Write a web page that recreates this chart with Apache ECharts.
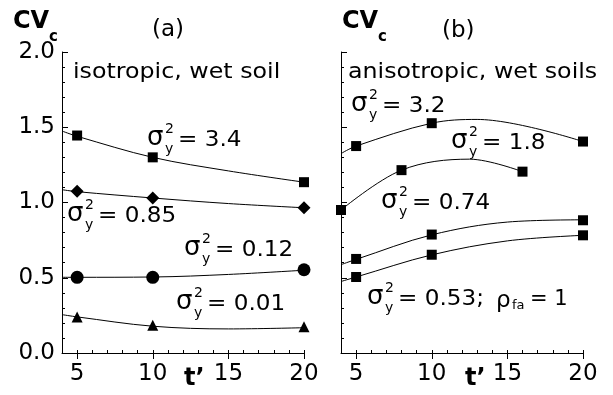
<!DOCTYPE html>
<html>
<head>
<meta charset="utf-8">
<script src="https://cdn.jsdelivr.net/npm/echarts@6/dist/echarts.min.js"></script>
<style>
  html, body { margin: 0; padding: 0; background: #fff; }
  #chart { width: 613px; height: 395px; }
</style>
</head>
<body>
<div id="chart"></div>
<script>
// panel (a): isotropic, wet soil
let tA = [5, 10, 20];
let aSq = [1.445, 1.30, 1.135];     // sigma^2 = 3.4
let aDia = [1.075, 1.03, 0.965];    // sigma^2 = 0.85
let aCirc = [0.503, 0.503, 0.553];  // sigma^2 = 0.12
let aTri = [0.24, 0.185, 0.175];    // sigma^2 = 0.01

// fitted curves (a)
let tFitA = [4, 5, 10, 15, 20];
let aFit34 = [1.475, 1.44, 1.30, 1.21, 1.135];
let aFit085 = [1.085, 1.072, 1.03, 0.993, 0.965];
let aFit012 = [0.503, 0.503, 0.505, 0.522, 0.55];
let aFit001 = [0.255, 0.24, 0.178, 0.16, 0.168];

// panel (b): anisotropic, wet soils
let tB = [5, 10, 20];
let b32 = [1.375, 1.527, 1.405];
let tB18 = [4, 8, 16];
let b18 = [0.95, 1.215, 1.205];
let bLow1 = [0.625, 0.787, 0.882];
let bLow2 = [0.505, 0.653, 0.782];

// fitted curves (b)
let tFitB32 = [4, 5, 10, 13, 20];
let bFit32 = [1.325, 1.375, 1.527, 1.552, 1.405];
let tFitB18 = [4, 8, 12.5, 16];
let bFit18 = [0.95, 1.215, 1.288, 1.205];
let tFitB = [4, 5, 10, 15, 20];
let bFitLow1 = [0.587, 0.622, 0.785, 0.87, 0.885];
let bFitLow2 = [0.475, 0.505, 0.652, 0.745, 0.782];

let xTicks = [5, 10, 15, 20];

const FONT = '"DejaVu Sans", sans-serif';

function zip(xs, ys) {
    return xs.map(function (x, i) { return [x, ys[i]]; });
}

function fitLine(xs, ys, panel) {
    return {
        type: 'line',
        xAxisIndex: panel * 2,
        yAxisIndex: panel,
        data: zip(xs, ys),
        smooth: 0.35,
        showSymbol: false,
        silent: true,
        lineStyle: { color: '#000', width: 1 },
        z: 2
    };
}

function marks(xs, ys, symbol, size, panel) {
    return {
        type: 'scatter',
        xAxisIndex: panel * 2,
        yAxisIndex: panel,
        data: zip(xs, ys),
        symbol: symbol,
        symbolSize: size,
        itemStyle: { color: '#000', opacity: 1 },
        silent: true,
        z: 3
    };
}

function xAxes(grid) {
    return [
        {
            gridIndex: grid,
            type: 'value',
            min: 4,
            max: 20,
            interval: 1,
            axisLine: { show: true, onZero: false, lineStyle: { color: '#000', width: 1 } },
            axisTick: { show: true, inside: true, length: 3, lineStyle: { color: '#000' } },
            axisLabel: {
                color: '#000',
                fontFamily: FONT,
                fontSize: 23,
                margin: 10,
                formatter: function (v) { return v % 5 === 0 ? String(v) : ''; }
            },
            splitLine: { show: false }
        },
        {
            gridIndex: grid,
            type: 'value',
            min: 4,
            max: 20,
            axisLine: { show: false },
            axisTick: { show: true, inside: true, length: 6, customValues: xTicks, lineStyle: { color: '#000' } },
            axisLabel: { show: false },
            splitLine: { show: false }
        }
    ];
}

function yAxis(grid, labels) {
    return {
        gridIndex: grid,
        type: 'value',
        min: 0,
        max: 2,
        interval: 0.5,
        axisLine: { show: true, lineStyle: { color: '#000', width: 1 } },
        axisTick: { show: true, inside: true, length: 6, lineStyle: { color: '#000' } },
        minorTick: { show: true, splitNumber: 5, length: 3, lineStyle: { color: '#000' } },
        axisLabel: {
            show: labels,
            color: '#000',
            fontFamily: FONT,
            fontSize: 23,
            margin: 7,
            formatter: function (v) { return v.toFixed(1); }
        },
        splitLine: { show: false },
        minorSplitLine: { show: false }
    };
}

function txt(x, y, text, size, extra) {
    let el = {
        type: 'text',
        x: x,
        y: y,
        style: Object.assign({
            text: text,
            font: size + 'px ' + FONT,
            fill: '#000',
            align: 'left',
            verticalAlign: 'middle'
        }, extra || {})
    };
    return el;
}

function sigma(x, y, rest) {
    let rt = txt(30, 0, rest, 21);
    rt.scaleX = 1.1;
    return {
        type: 'group',
        x: x,
        y: y,
        children: [
            txt(-1, -3, 'σ', 26),
            txt(17, -12, '2', 14),
            txt(17, 8, 'y', 14),
            rt
        ]
    };
}

function heading(x, y, text) {
    let el = txt(x, y, text, 21);
    el.scaleX = 1.13;
    return el;
}

function cv(x) {
    return [
        txt(x, 22, 'CV', 24, { font: 'bold 24px ' + FONT }),
        txt(x + 36, 37, 'c', 15, { font: 'bold 15px ' + FONT })
    ];
}

let graphics = [].concat(
    cv(13), cv(342),
    [
        txt(152, 30, '(a)', 23),
        txt(442, 31, '(b)', 23),
        heading(73, 73, 'isotropic, wet soil'),
        heading(348, 73, 'anisotropic, wet soils'),
        txt(184, 379, 't’', 24, { font: 'bold 24px ' + FONT }),
        txt(465, 379, 't’', 24, { font: 'bold 24px ' + FONT }),
        sigma(148, 141, '= 3.4'),
        sigma(68, 217, '= 0.85'),
        sigma(185, 251, '= 0.12'),
        sigma(177, 305, '= 0.01'),
        sigma(352, 107, '= 3.2'),
        sigma(452, 144, '= 1.8'),
        sigma(382, 204, '= 0.74'),
        sigma(368, 300, '= 0.53;'),
        txt(496, 301, 'ρ', 23),
        txt(512, 306, 'fa', 13),
        txt(530, 300, '= 1', 21)
    ]
);

let chart = echarts.init(document.getElementById('chart'), null, { renderer: 'canvas' });

let option = {
    backgroundColor: '#fff',
    animation: false,
    grid: [
        { left: 62, top: 52, width: 242, height: 301 },
        { left: 341, top: 52, width: 242, height: 301 }
    ],
    xAxis: xAxes(0).concat(xAxes(1)),
    yAxis: [yAxis(0, true), yAxis(1, false)],
    series: [
        fitLine(tFitA, aFit34, 0),
        fitLine(tFitA, aFit085, 0),
        fitLine(tFitA, aFit012, 0),
        fitLine(tFitA, aFit001, 0),
        marks(tA, aSq, 'rect', 10, 0),
        marks(tA, aDia, 'diamond', 13, 0),
        marks(tA, aCirc, 'circle', 13, 0),
        marks(tA, aTri, 'triangle', 11, 0),

        fitLine(tFitB32, bFit32, 1),
        fitLine(tFitB18, bFit18, 1),
        fitLine(tFitB, bFitLow1, 1),
        fitLine(tFitB, bFitLow2, 1),
        marks(tB, b32, 'rect', 10, 1),
        marks(tB18, b18, 'rect', 10, 1),
        marks(tB, bLow1, 'rect', 10, 1),
        marks(tB, bLow2, 'rect', 10, 1)
    ],
    graphic: graphics
};

chart.setOption(option);
</script>
</body>
</html>
